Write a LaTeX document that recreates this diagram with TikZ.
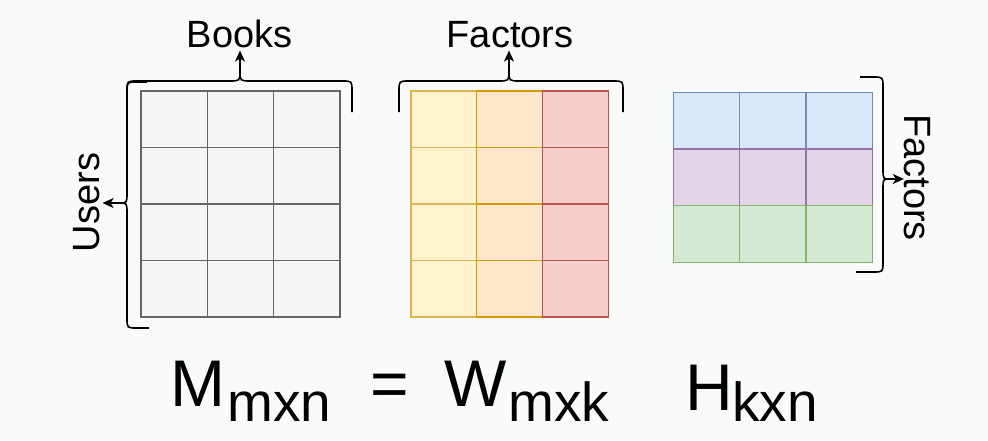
\documentclass[tikz,border=0pt]{standalone}
\usepackage{fontspec}
\setmainfont{Liberation Sans}
\usetikzlibrary{arrows.meta}
\definecolor{bgc}{RGB}{249,250,250}
\definecolor{mfill}{HTML}{F5F5F5}
\definecolor{mline}{HTML}{666666}
\definecolor{yfill}{HTML}{FFF2CC}
\definecolor{yline}{HTML}{D6B656}
\definecolor{ofill}{HTML}{FFE6CC}
\definecolor{oline}{HTML}{D79B00}
\definecolor{rfill}{HTML}{F8CECC}
\definecolor{rline}{HTML}{B85450}
\definecolor{bfill}{HTML}{DAE8FC}
\definecolor{bline}{HTML}{6C8EBF}
\definecolor{pfill}{HTML}{E1D5E7}
\definecolor{pline}{HTML}{9673A6}
\definecolor{gfill}{HTML}{D5E8D4}
\definecolor{gline}{HTML}{82B366}
\begin{document}
\begin{tikzpicture}[x=1pt,y=-1pt,
  cell/.style={line width=1.1pt},
  brace/.style={line width=1.6pt,black},
  arr/.style={line width=1.6pt,-{Stealth[length=11pt,width=10pt,inset=3pt]}},
  lbl/.style={inner sep=0pt,font=\fontsize{38}{40}\selectfont},
  big/.style={inner sep=0pt,anchor=base west,font=\fontsize{66}{70}\selectfont},
  sub/.style={inner sep=0pt,anchor=base west,font=\fontsize{55}{60}\selectfont}]
\useasboundingbox (0,0) rectangle (988,440);
\fill[bgc] (0,0) rectangle (988,440);
% M grid
\foreach \i in {0,1,2}{\foreach \j in {0,1,2,3}{
  \filldraw[cell,fill=mfill,draw=mline] (141+66.33*\i,91+56.5*\j) rectangle ++(66.33,56.5);}}
% W grid
\foreach \i/\fc/\lc in {0/yfill/yline,1/ofill/oline,2/rfill/rline}{\foreach \j in {0,1,2,3}{
  \filldraw[cell,fill=\fc,draw=\lc] (411+65.8*\i,91+56.5*\j) rectangle ++(65.8,56.5);}}
% H grid
\foreach \j/\fc/\lc in {0/bfill/bline,1/pfill/pline,2/gfill/gline}{\foreach \i in {0,1,2}{
  \filldraw[cell,fill=\fc,draw=\lc] (673.3+66.33*\i,92.3+56.67*\j) rectangle ++(66.33,56.67);}}
% labels
\node[lbl,anchor=base] (books) at (239.7,47.3) {Books};
\node[lbl,anchor=base] (wfac) at (510,47.3) {Factors};
\node[lbl,anchor=base,rotate=90] (users) at (99.3,202.5) {Users};
\node[lbl,anchor=base,rotate=-90] (hfac) at (904.4,177.5) {Factors};
% braces
\draw[brace] (127,112) -- (127,91) .. controls (127,81) .. (137,81) -- (229,81)
  .. controls (240,81) .. (240,71) coordinate (mcusp) .. controls (240,81) .. (251,81)
  -- (342,81) .. controls (352,81) .. (352,91) -- (352,112);
\draw[brace] (147,82) -- (137,82) .. controls (127,82) .. (127,92) -- (127,193)
  .. controls (127,203) .. (119,203) coordinate (ucusp) .. controls (127,203) .. (127,213)
  -- (127,318) .. controls (127,328) .. (137,328) -- (149,328);
\draw[brace] (399,112) -- (399,91) .. controls (399,81) .. (409,81) -- (498,81)
  .. controls (509,81) .. (509,71) coordinate (wcusp) .. controls (509,81) .. (520,81)
  -- (613,81) .. controls (623,81) .. (623,91) -- (623,112);
\draw[brace] (860,77) -- (873,77) .. controls (883,77) .. (883,87) -- (883,169)
  .. controls (883,179) .. (890,179) coordinate (hcusp) .. controls (883,179) .. (883,189)
  -- (883,262) .. controls (883,272) .. (873,272) -- (856,272);
% arrows
\draw[arr,shorten >=2.7pt] (mcusp) -- (mcusp |- books.south);
\draw[arr,shorten >=2.7pt] (wcusp) -- (wcusp |- wfac.south);
\draw[arr,shorten >=2.7pt] (ucusp) -- (ucusp -| users.south);
\draw[arr,shorten >=0pt] (hcusp) -- (hcusp -| hfac.south);
% formula
\node[big] (M) at (170,406.7) {M};
\node[sub] (Ms) at (227,421.7) {mxn};
\node[big] (eq) at (370,406.7) {=};
\node[big] (W) at (444.5,406.7) {W};
\node[sub] (Ws) at (508,421.7) {mxk};
\node[big] (H) at (685.4,410) {H};
\node[sub] (Hs) at (732,421) {kxn};
\end{tikzpicture}
\end{document}
